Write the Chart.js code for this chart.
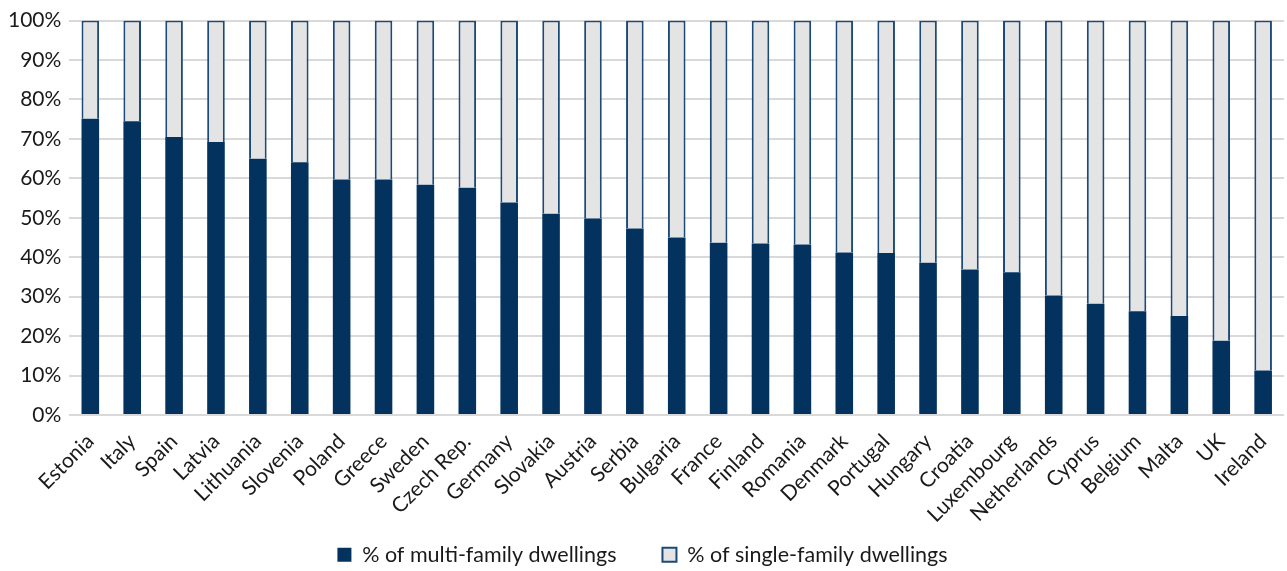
<!DOCTYPE html>
<html>
<head>
<meta charset="utf-8">
<script src="https://cdn.jsdelivr.net/npm/chart.js@4"></script>
<style>
    html, body { margin: 0; padding: 0; background: #fff; }
    #wrap { width: 1287px; height: 571px; }
</style>
</head>
<body>
<div id="wrap"><canvas id="dwellingChart"></canvas></div>
<script>
var countries = ['Estonia', 'Italy', 'Spain', 'Latvia', 'Lithuania', 'Slovenia', 'Poland', 'Greece', 'Sweden', 'Czech Rep.',
    'Germany', 'Slovakia', 'Austria', 'Serbia', 'Bulgaria', 'France', 'Finland', 'Romania', 'Denmark', 'Portugal',
    'Hungary', 'Croatia', 'Luxembourg', 'Netherlands', 'Cyprus', 'Belgium', 'Malta', 'UK', 'Ireland'];
var multiFamily = [75.1, 74.5, 70.5, 69.2, 65.0, 64.1, 59.7, 59.7, 58.4, 57.6,
    53.9, 51.0, 49.8, 47.3, 45.0, 43.7, 43.5, 43.2, 41.2, 41.1,
    38.6, 36.9, 36.2, 30.3, 28.2, 26.3, 25.1, 18.8, 11.3];
var singleFamily = [24.9, 25.5, 29.5, 30.8, 35.0, 35.9, 40.3, 40.3, 41.6, 42.4,
    46.1, 49.0, 50.2, 52.7, 55.0, 56.3, 56.5, 56.8, 58.8, 58.9,
    61.4, 63.1, 63.8, 69.7, 71.8, 73.7, 74.9, 81.2, 88.7];
var yTicks = [0, 10, 20, 30, 40, 50, 60, 70, 80, 90, 100];

var darkBlue = '#03325f';
var lightGrey = '#e4e4e4';

// font close to the original Calibri
Chart.defaults.font.family = 'Lato, "Open Sans", sans-serif';
Chart.defaults.font.size = 21;
Chart.defaults.color = '#1a1a1a';

// let the rotated country names run past the x axis box instead of being clipped
var unclipLabels = {
    id: 'unclipLabels',
    afterLayout: function (chart) {
        chart.scales.x.bottom = chart.height;
    }
};

var ctx = document.getElementById('dwellingChart').getContext('2d');
var chart = new Chart(ctx, {
    type: 'bar',
    data: {
        labels: countries,
        datasets: [
            {
                label: '% of multi-family dwellings',
                data: multiFamily,
                backgroundColor: darkBlue,
                borderColor: darkBlue,
                borderWidth: 0,
                categoryPercentage: 1,
                barPercentage: 0.42
            },
            {
                label: '% of single-family dwellings',
                data: singleFamily,
                backgroundColor: lightGrey,
                borderColor: '#1c4a78',
                borderWidth: 2,
                categoryPercentage: 1,
                barPercentage: 0.42
            }
        ]
    },
    plugins: [unclipLabels],
    options: {
        responsive: true,
        maintainAspectRatio: false,
        animation: false,
        layout: { padding: { top: 5, right: 2, left: 0, bottom: 0 } },
        plugins: {
            legend: {
                position: 'bottom',
                maxHeight: 73,
                labels: {
                    boxWidth: 14,
                    boxHeight: 14,
                    padding: 46,
                    font: { size: 21.5 }
                }
            },
            tooltip: { enabled: false }
        },
        scales: {
            x: {
                stacked: true,
                grid: { display: false },
                border: { display: false },
                afterFit: function (axis) { axis.height = 83; },
                ticks: {
                    maxRotation: 45,
                    minRotation: 45,
                    autoSkip: false,
                    padding: 6
                }
            },
            y: {
                stacked: true,
                min: 0,
                max: 100,
                afterBuildTicks: function (axis) {
                    axis.ticks = yTicks.map(v => ({ value: v }));
                },
                grid: { color: '#d9d9d9', lineWidth: 2, drawTicks: false },
                border: { display: false },
                ticks: {
                    padding: 8,
                    callback: function (v) { return v + '%'; }
                }
            }
        }
    }
});
</script>
</body>
</html>
